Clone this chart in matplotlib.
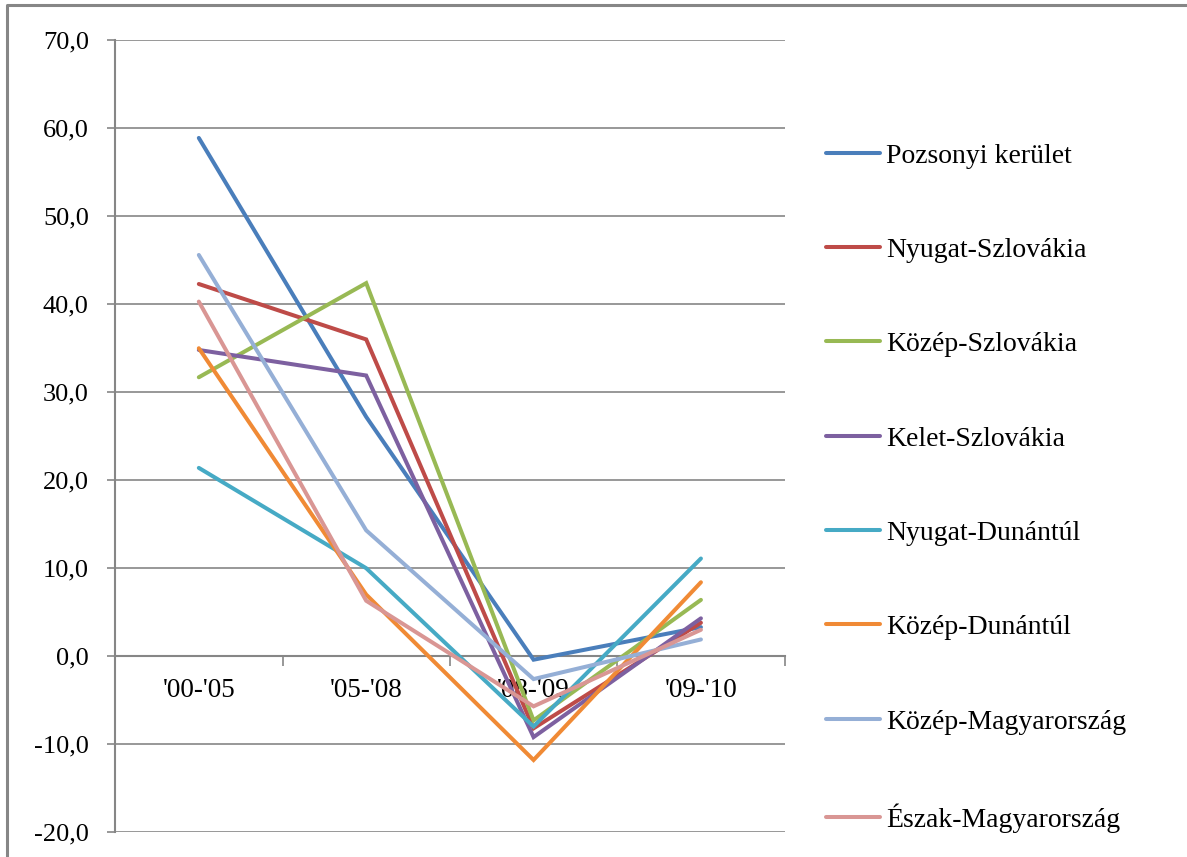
import matplotlib.pyplot as plt
from matplotlib.lines import Line2D
from matplotlib.ticker import FuncFormatter, FixedLocator

plt.rcParams['font.family'] = ['Liberation Serif', 'DejaVu Serif']

periods = ["'00-'05", "'05-'08", "'08-'09", "'09-'10"]

pozsonyi = [58.9, 27.2, -0.4, 3.3]
nyugat_szlovakia = [42.3, 36.0, -8.2, 3.8]
kozep_szlovakia = [31.7, 42.4, -7.3, 6.4]
kelet_szlovakia = [34.8, 31.9, -9.2, 4.3]
nyugat_dunantul = [21.4, 10.0, -8.0, 11.1]
kozep_dunantul = [35.0, 7.0, -11.8, 8.4]
kozep_magyarorszag = [45.6, 14.3, -2.6, 1.9]
eszak_magyarorszag = [40.3, 6.3, -5.7, 3.0]

series = [
    ("Pozsonyi kerület", pozsonyi, "#4A7EBB"),
    ("Nyugat-Szlovákia", nyugat_szlovakia, "#BE4B48"),
    ("Közép-Szlovákia", kozep_szlovakia, "#98B954"),
    ("Kelet-Szlovákia", kelet_szlovakia, "#7D60A0"),
    ("Nyugat-Dunántúl", nyugat_dunantul, "#46AAC5"),
    ("Közép-Dunántúl", kozep_dunantul, "#F08A35"),
    ("Közép-Magyarország", kozep_magyarorszag, "#95AFD6"),
    ("Észak-Magyarország", eszak_magyarorszag, "#D99694"),
]

fig = plt.figure(figsize=(11.87, 8.57), dpi=100)
ax = fig.add_axes([0.097, 0.029, 0.564, 0.924])

x = list(range(len(periods)))
for name, vals, col in series:
    ax.plot(x, vals, color=col, lw=2.9, label=name, solid_capstyle='round',
            solid_joinstyle='miter', zorder=3)

ax.set_xlim(-0.5, 3.5)
ax.set_ylim(-20, 70)
ax.set_yticks(range(-20, 71, 10))
ax.yaxis.set_major_formatter(FuncFormatter(lambda v, p: f"{v:.1f}".replace('.', ',')))
ax.grid(axis='y', color='#868686', lw=1.2, zorder=0)

# category axis crosses at 0
ax.spines['bottom'].set_position(('data', 0))
for s in ['top', 'right']:
    ax.spines[s].set_visible(False)
for s in ['left', 'bottom']:
    ax.spines[s].set_color('#868686')
    ax.spines[s].set_linewidth(1.5)

ax.xaxis.set_major_locator(FixedLocator([-0.5, 0.5, 1.5, 2.5, 3.5]))
ax.xaxis.set_minor_locator(FixedLocator(x))
ax.set_xticklabels([], minor=False)
ax.set_xticklabels(periods, minor=True)
ax.tick_params(axis='x', which='major', length=7, color='#868686', width=1.2, direction='out')
ax.tick_params(axis='x', which='minor', length=0, pad=16, labelsize=19.5)
ax.tick_params(axis='y', length=6, color='#868686', width=1.2, pad=13, labelsize=19)

fig.legend(loc='upper left', bbox_to_anchor=(0.6865, 0.846), frameon=False,
           fontsize=20, handlelength=1.95, handletextpad=0.2, labelspacing=2.48,
           borderaxespad=0)

# chart border (left and top edges are visible in the reference)
fig.add_artist(Line2D([0.006, 0.006, 1.0], [0.0, 0.994, 0.994], transform=fig.transFigure,
                      color='#868686', lw=2.2))

fig.savefig('out.png', dpi=100)
